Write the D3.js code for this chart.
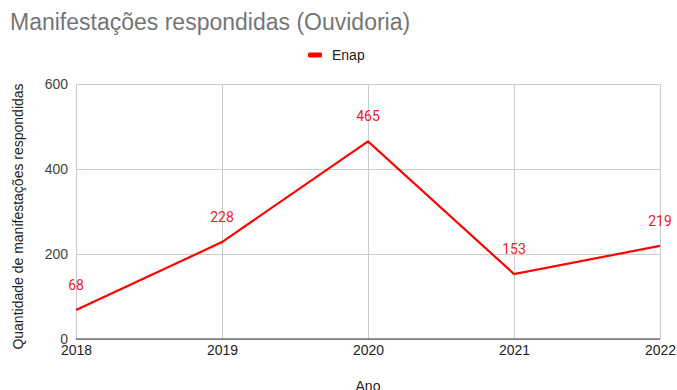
<!DOCTYPE html>
<html>
<head>
<meta charset="utf-8">
<script src="https://cdn.jsdelivr.net/npm/d3@7"></script>
<style>
  html, body { margin: 0; padding: 0; background: #fff; }
  svg { display: block; font-family: "Liberation Sans", Arial, sans-serif; }
</style>
</head>
<body>
<svg id="chart" width="677" height="390"></svg>
<script>
// Respondidas por ano (Ouvidoria Enap)
const years = ["2018", "2019", "2020", "2021", "2022"];
const enapValues = [68, 228, 465, 153, 219];
const yTicks = [0, 200, 400, 600];

const svg = d3.select("#chart");
const W = 677, H = 390;
const margin = { top: 84, right: 17, bottom: 51, left: 76 };
const innerW = W - margin.left - margin.right;
const innerH = H - margin.top - margin.bottom;

const x = d3.scalePoint().domain(years).range([0, innerW]);
const y = d3.scaleLinear().domain([0, 600]).range([innerH, 0]);

svg.append("text")
  .attr("x", 10).attr("y", 30)
  .attr("font-size", 23)
  .attr("fill", "#757575")
  .text("Manifestações respondidas (Ouvidoria)");

// legend
const lg = svg.append("g").attr("transform", "translate(308,55)");
lg.append("rect").attr("x", 0).attr("y", -2.5).attr("width", 14).attr("height", 5)
  .attr("rx", 1.5).attr("fill", "#ff0000");
lg.append("text").attr("x", 24).attr("y", 5).attr("font-size", 14)
  .attr("fill", "#222").text("Enap");

const g = svg.append("g").attr("transform", `translate(${margin.left},${margin.top})`);

// horizontal gridlines + y labels
const yAxis = d3.axisLeft(y).tickValues(yTicks).tickSize(-innerW).tickPadding(8);
g.append("g").call(yAxis)
  .call(a => a.select(".domain").remove())
  .call(a => a.selectAll(".tick line").attr("stroke", "#cccccc"))
  .call(a => a.selectAll(".tick text").attr("font-size", 14).attr("fill", "#444")
    .attr("font-family", "Liberation Sans, Arial, sans-serif"));

// vertical gridlines + x labels
const xAxis = d3.axisBottom(x).tickSize(-innerH).tickPadding(6);
g.append("g").attr("transform", `translate(0,${innerH})`).call(xAxis)
  .call(a => a.select(".domain").remove())
  .call(a => a.selectAll(".tick line").attr("stroke", "#cccccc"))
  .call(a => a.selectAll(".tick text").attr("font-size", 14).attr("fill", "#222")
    .attr("font-family", "Liberation Sans, Arial, sans-serif"));

// baseline
g.append("line").attr("x1", 0).attr("x2", innerW)
  .attr("y1", y(0)).attr("y2", y(0))
  .attr("stroke", "#333").attr("stroke-width", 1);

// series
const line = d3.line().x((d, i) => x(years[i])).y(d => y(d));
g.append("path").datum(enapValues)
  .attr("d", line)
  .attr("fill", "none")
  .attr("stroke", "#ff0000")
  .attr("stroke-width", 2.2)
  .attr("stroke-linejoin", "miter");

// value labels
g.selectAll(".val").data(enapValues).join("text")
  .attr("class", "val")
  .attr("x", (d, i) => x(years[i]))
  .attr("y", d => y(d) - 20)
  .attr("text-anchor", "middle")
  .attr("font-size", 14)
  .attr("font-family", "Roboto, sans-serif")
  .attr("fill", "#ee1c25")
  .text(d => d);

// axis titles
svg.append("text")
  .attr("transform", `translate(23,${margin.top + innerH / 2 + 5}) rotate(-90)`)
  .attr("text-anchor", "middle")
  .attr("font-size", 14)
  .attr("fill", "#222")
  .text("Quantidade de manifestações respondidas");

svg.append("text")
  .attr("x", margin.left + innerW / 2).attr("y", 391)
  .attr("text-anchor", "middle")
  .attr("font-size", 14)
  .attr("fill", "#222")
  .text("Ano");
</script>
</body>
</html>
